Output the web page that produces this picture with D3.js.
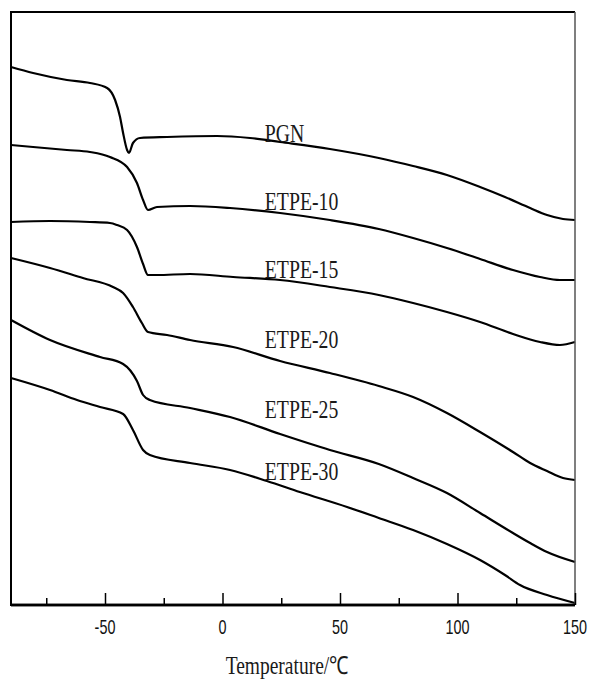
<!DOCTYPE html>
<html lang="en">
<head>
<meta charset="utf-8">
<script src="https://d3js.org/d3.v7.min.js"></script>
<style>
  body { margin: 0; background: #fff; }
  svg { display: block; }
</style>
</head>
<body>
<svg width="590" height="681"></svg>
<script>
// DSC traces, temperature (C) vs heat flow (arbitrary units, stacked)
var series = ["PGN", "ETPE-10", "ETPE-15", "ETPE-20", "ETPE-25", "ETPE-30"];

var pgn = [[-90,53.8],[-80.6,53.2],[-66.2,52.5],[-56.4,52.2],[-49.1,51.7],[-45.7,50.5],[-43.6,48.8],
  [-42.3,47.2],[-40.6,45.5],[-39.8,45.2],[-38.1,46.2],[-35.1,46.7],[-23.6,46.8],[-2.3,46.9],[11.7,46.7],
  [24.5,46.3],[45.7,45.6],[66.5,44.7],[81.1,43.9],[95.5,43.0],[109.6,41.8],[120.2,40.8],[130.9,39.7],
  [138.1,39.0],[144.9,38.6],[150,38.5]];

var etpe10 = [[-90,46.0],[-80.6,45.8],[-66.2,45.5],[-56.4,45.3],[-47.9,44.8],[-40.6,43.8],[-36.4,42.2],
  [-33.8,40.5],[-31.7,39.5],[-27.9,39.8],[-13.8,39.9],[3.2,39.7],[24.5,39.2],[45.7,38.5],[66.5,37.6],
  [81.1,36.7],[95.5,35.7],[109.6,34.6],[123.6,33.5],[135.1,32.8],[143.6,32.5],[150,32.5]];

var etpe15 = [[-90,38.3],[-73.4,38.4],[-56.4,38.3],[-47.9,38.2],[-44.9,38.0],[-40.6,37.5],[-36.4,35.8],
  [-33.8,34.1],[-31.7,33.0],[-27.9,33.0],[-13.8,33.1],[4.5,32.8],[24.5,32.5],[45.7,31.8],[66.5,31.0],
  [81.1,30.2],[95.5,29.3],[109.6,28.3],[123.6,27.1],[135.1,26.3],[143.6,26.0],[150,26.3]];

var etpe20 = [[-90,34.7],[-73.4,33.7],[-59.4,32.7],[-46.6,31.8],[-42.3,31.2],[-38.1,29.8],[-34.3,28.2],
  [-31.7,27.3],[-23.6,27.0],[-13.8,26.5],[4.5,25.8],[24.5,24.4],[45.7,23.2],[66.5,21.9],[81.1,20.8],
  [95.5,19.2],[109.6,17.3],[123.6,15.3],[130.9,14.2],[138.1,13.4],[144.9,12.7],[150,12.5]];

var etpe25 = [[-90,28.5],[-73.4,26.5],[-52.1,24.8],[-42.3,24.1],[-36.4,22.4],[-33.8,21.0],[-30.9,20.5],
  [-13.8,19.7],[3.2,18.8],[24.5,17.1],[45.7,15.5],[66.5,14.1],[81.1,12.7],[95.5,11.2],[109.6,9.2],
  [123.6,7.2],[130.9,6.2],[138.1,5.3],[150,4.3]];

var etpe30 = [[-90,22.7],[-73.4,21.5],[-61.9,20.5],[-52.1,19.8],[-42.3,19.1],[-38.1,17.5],[-33.8,15.5],
  [-30.9,15.0],[-13.8,14.2],[3.2,13.5],[18.9,12.4],[32.9,11.3],[53.0,9.8],[66.5,8.7],[81.1,7.5],
  [95.5,6.1],[109.6,4.5],[120.2,3.0],[126.6,2.0],[138.1,1.0],[150,0.2]];

var curves = [pgn, etpe10, etpe15, etpe20, etpe25, etpe30];
// label anchor (temperature, heat flow) for each curve
var labelPos = [[18,46.3],[18,39.5],[18,32.7],[18,25.7],[18,18.7],[18,12.5]];

var majorTicks = [-50, 0, 50, 100, 150];
var minorTicks = [-75, -25, 25, 75, 125];

var svg = d3.select("svg"),
    pLeft = 11, pTop = 12, pRight = 575, pBottom = 605;

var x = d3.scaleLinear().domain([-90, 150]).range([pLeft, pRight]);
var y = d3.scaleLinear().domain([0, 59.3]).range([pBottom, pTop]);

var line = d3.line()
    .x(function(d) { return x(d[0]); })
    .y(function(d) { return y(d[1]); })
    .curve(d3.curveMonotoneX);

// curves
svg.selectAll(".trace")
   .data(curves)
   .enter().append("path")
   .attr("class", "trace")
   .attr("d", line)
   .attr("fill", "none")
   .attr("stroke", "#000")
   .attr("stroke-width", 2.2)
   .attr("stroke-linejoin", "round");

// curve names, squeezed horizontally like the original
svg.selectAll(".lbl")
   .data(series)
   .enter().append("text")
   .attr("class", "lbl")
   .attr("transform", function(d, i) {
       return "translate(" + x(labelPos[i][0]) + "," + y(labelPos[i][1]) + ") scale(0.79,1)";
   })
   .attr("font-family", "'Liberation Serif', 'Times New Roman', serif")
   .attr("font-size", "25px")
   .attr("fill", "#1a1a1a")
   .text(function(d) { return d; });

// frame
svg.append("line").attr("x1", pLeft).attr("x2", pRight).attr("y1", pTop).attr("y2", pTop)
   .attr("stroke", "#000").attr("stroke-width", 2);
svg.append("line").attr("x1", pRight).attr("x2", pRight).attr("y1", pTop).attr("y2", pBottom)
   .attr("stroke", "#555").attr("stroke-width", 1.5);
svg.append("line").attr("x1", pLeft).attr("x2", pLeft).attr("y1", pTop - 1).attr("y2", pBottom + 1)
   .attr("stroke", "#000").attr("stroke-width", 2);

// bottom axis, ticks point inward
var gx = svg.append("g").attr("transform", "translate(0," + pBottom + ")");
gx.call(d3.axisBottom(x).tickValues(majorTicks).tickSize(-12).tickFormat(""));
gx.append("g").call(d3.axisBottom(x).tickValues(minorTicks).tickSize(-7).tickFormat(""));
gx.selectAll(".domain").attr("stroke-width", 2.5).attr("d", "M" + pLeft + ",0H" + pRight);
gx.selectAll(".tick line").attr("stroke-width", 1.5);

gx.selectAll(".num")
  .data(majorTicks)
  .enter().append("text")
  .attr("class", "num")
  .attr("transform", function(d) { return "translate(" + x(d) + ",29) scale(0.72,1)"; })
  .attr("text-anchor", "middle")
  .attr("font-family", "'Liberation Sans', Arial, sans-serif")
  .attr("font-size", "20px")
  .attr("fill", "#111")
  .text(function(d) { return d; });

svg.append("text")
   .attr("transform", "translate(287,674) scale(0.78,1)")
   .attr("text-anchor", "middle")
   .attr("font-family", "'Liberation Serif', 'Times New Roman', serif")
   .attr("font-size", "25px")
   .attr("fill", "#1a1a1a")
   .text("Temperature/\u2103");
</script>
</body>
</html>
